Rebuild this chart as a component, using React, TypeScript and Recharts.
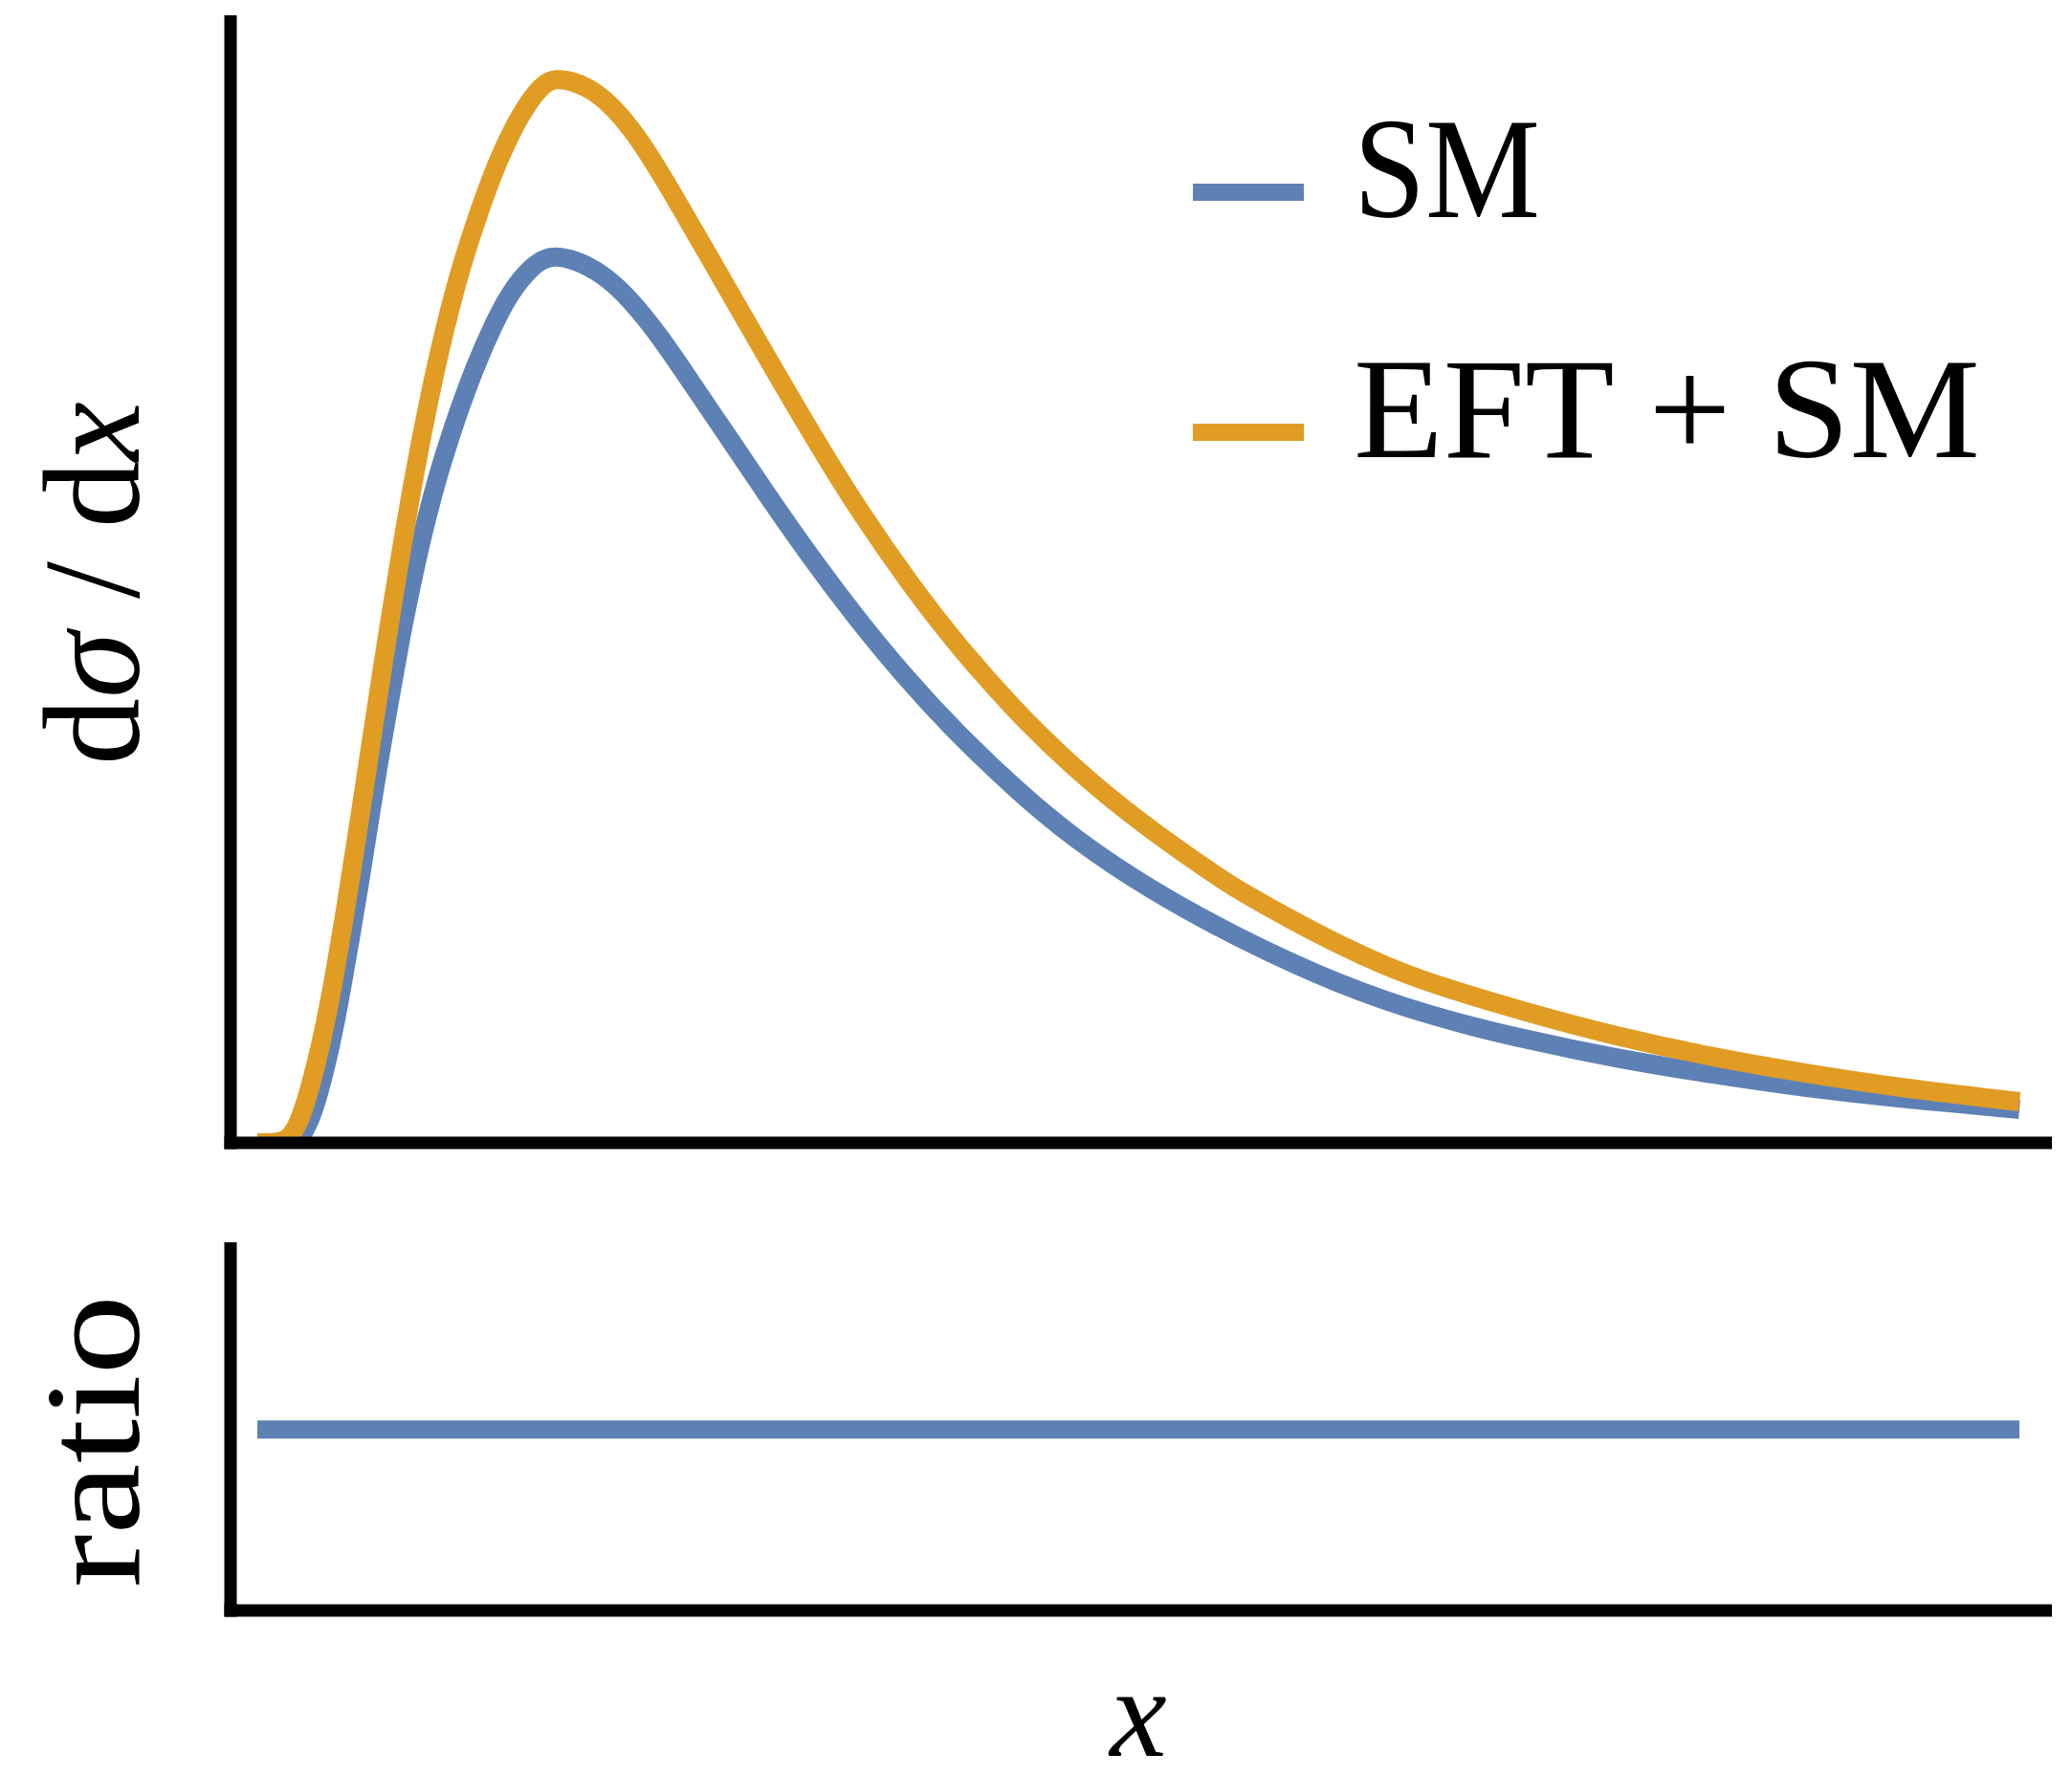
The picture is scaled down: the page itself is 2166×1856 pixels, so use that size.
import React from "react";
import { LineChart, Line, XAxis, YAxis, Legend } from "recharts";

// x in arbitrary units (0..100 across the curves), y normalised so the SM peak is 100
const smX = [0, 1.95, 2.5, 3.2, 3.85, 4.4, 5.1, 5.81, 6.35, 6.89, 7.55, 8.14, 8.74, 9.28, 9.83, 10.37, 10.97, 11.56, 12.43, 13.36, 14.33, 15.53, 16.34, 16.88, 17.97, 19.6, 21.23, 22.86, 24.48, 26.66, 28.83, 31.54, 33.93, 36.7, 39.47, 43.11, 46.42, 50.54, 55.54, 61.4, 66.67, 71.93, 77.2, 82.46, 87.73, 93.0, 100];
const smY = [0, 0, 0.54, 3.45, 8.3, 13.15, 21.01, 29.31, 36.21, 43.0, 50.32, 57.11, 62.82, 67.78, 72.09, 75.97, 79.74, 83.19, 87.82, 92.03, 95.8, 98.71, 99.68, 99.9, 99.57, 97.95, 94.94, 90.84, 86.1, 79.74, 73.28, 65.6, 59.3, 52.6, 46.6, 39.66, 34.16, 28.66, 23.17, 17.78, 14.22, 11.64, 9.48, 7.76, 6.25, 5.06, 3.77];

const eftX = [0, 1.14, 1.68, 2.23, 2.77, 3.31, 3.85, 4.4, 4.94, 5.48, 6.03, 6.57, 7.11, 7.65, 8.2, 8.74, 9.28, 9.83, 10.37, 10.91, 11.45, 12.0, 12.54, 13.08, 13.63, 14.17, 14.71, 15.26, 15.8, 16.34, 16.88, 17.97, 19.06, 20.14, 21.23, 22.31, 23.4, 25.57, 28.83, 32.08, 34.26, 36.97, 39.69, 42.94, 46.2, 50.0, 54.34, 55.97, 58.69, 61.4, 64.12, 66.67, 71.93, 77.2, 82.46, 87.73, 93.0, 100];
const eftY = [0, 0, 0.32, 1.62, 4.63, 8.62, 13.25, 19.07, 25.43, 32.33, 39.44, 46.55, 53.66, 60.45, 67.13, 73.38, 79.2, 84.59, 89.44, 93.86, 97.84, 101.4, 104.63, 107.65, 110.45, 112.82, 114.98, 116.81, 118.32, 119.4, 119.94, 119.61, 118.59, 116.81, 114.28, 111.1, 107.54, 100.11, 88.79, 77.8, 70.91, 63.15, 56.14, 48.81, 42.46, 36.21, 30.17, 28.13, 25.11, 22.31, 19.83, 17.89, 14.76, 11.96, 9.7, 7.87, 6.25, 4.63];

const ratioX = [0, 20, 40, 60, 80, 100];
const ratioY = [1, 1, 1, 1, 1, 1];

const legendLabels = ["SM", "EFT + SM"];

const smData = smX.map((x, i) => ({ x, y: smY[i] }));
const eftData = eftX.map((x, i) => ({ x, y: eftY[i] }));
const ratioData = ratioX.map((x, i) => ({ x, y: ratioY[i] }));

const BLUE = "#5E81B5";
const ORANGE = "#E19C24";
const FONT = "'Liberation Serif', 'DejaVu Serif', serif";
const X_DOMAIN: [number, number] = [-1.52, 101.49];

const axisLine = { stroke: "#000", strokeWidth: 13, strokeLinecap: "square" as const };

const LegendBox = () => {
  const colors = [BLUE, ORANGE];
  const lengths = [195, 655];
  return (
    <svg width={900} height={400} style={{ overflow: "visible" }}>
      {legendLabels.map((label, i) => (
        <g key={label} transform={`translate(0, ${i * 251})`}>
          <rect x={47} y={92} width={116} height={18} fill={colors[i]} />
          <text
            x={215}
            y={127}
            fontFamily={FONT}
            fontSize={150}
            fill="#000"
            textLength={lengths[i]}
            lengthAdjust="spacingAndGlyphs"
          >
            {label}
          </text>
        </g>
      ))}
    </svg>
  );
};

export default function App() {
  return (
    <div style={{ position: "absolute", left: 0, top: 0, width: 2166, height: 1856, background: "#fff" }}>
      <div style={{ position: "absolute", left: 0, top: 0 }}>
        <LineChart width={2166} height={1240} margin={{ top: 22.5, right: 27.5, bottom: 15, left: 181 }}>
          <Line data={smData} dataKey="y" name="SM" type="basis" stroke={BLUE} strokeWidth={20} strokeLinecap="butt" dot={false} activeDot={false} isAnimationActive={false} />
          <Line data={eftData} dataKey="y" name="EFT + SM" type="basis" stroke={ORANGE} strokeWidth={20} strokeLinecap="butt" dot={false} activeDot={false} isAnimationActive={false} />
          <XAxis dataKey="x" type="number" domain={X_DOMAIN} allowDataOverflow tick={false} tickLine={false} axisLine={axisLine} />
          <YAxis type="number" domain={[0, 126.35]} allowDataOverflow tick={false} tickLine={false} axisLine={axisLine} />
          <Legend
            layout="vertical"
            align="center"
            verticalAlign="middle"
            content={<LegendBox />}
            wrapperStyle={{ left: 1200, top: 100, width: 900, height: 400 }}
          />
        </LineChart>
      </div>
      <div style={{ position: "absolute", left: 0, top: 1240 }}>
        <LineChart width={2166} height={616} margin={{ top: 65.5, right: 27.5, bottom: 142, left: 181 }}>
          <Line data={ratioData} dataKey="y" name="ratio" type="linear" stroke={BLUE} strokeWidth={19} strokeLinecap="butt" dot={false} activeDot={false} isAnimationActive={false} />
          <XAxis dataKey="x" type="number" domain={X_DOMAIN} allowDataOverflow tick={false} tickLine={false} axisLine={axisLine} />
          <YAxis type="number" domain={[0.5, 1.5]} allowDataOverflow tick={false} tickLine={false} axisLine={axisLine} />
        </LineChart>
      </div>
      <svg width={2166} height={1856} style={{ position: "absolute", left: 0, top: 0, pointerEvents: "none" }}>
        <text transform="translate(145, 610) rotate(-90)" textAnchor="middle" fontFamily={FONT} fontSize={144} textLength={380} lengthAdjust="spacingAndGlyphs">
          d<tspan fontStyle="italic">σ</tspan> / d<tspan fontStyle="italic">x</tspan>
        </text>
        <text transform="translate(145, 1507) rotate(-90)" textAnchor="middle" fontFamily={FONT} fontSize={141} textLength={306} lengthAdjust="spacingAndGlyphs">
          ratio
        </text>
        <text x={1190} y={1836} textAnchor="middle" fontFamily={FONT} fontStyle="italic" fontSize={134}>
          x
        </text>
      </svg>
    </div>
  );
}
